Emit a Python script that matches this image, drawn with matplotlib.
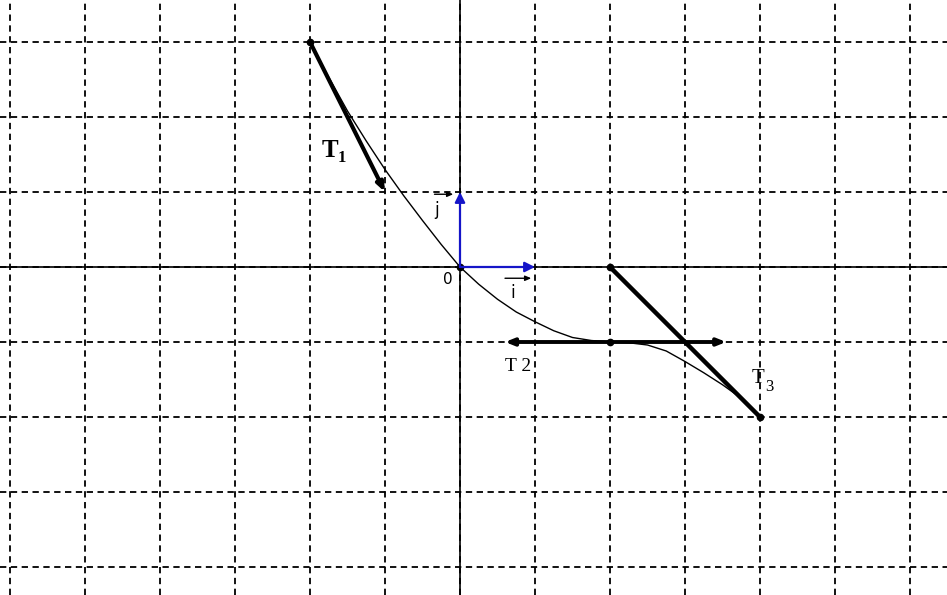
import matplotlib
matplotlib.use("Agg")
import matplotlib.pyplot as plt

# ---- data (graph units) ----
curve_x = [-2, -1.75, -1.5, -1.25, -1, -0.75, -0.5, -0.25, 0, 0.25, 0.5, 0.75, 1,
           1.25, 1.5, 1.75, 2, 2.25, 2.5, 2.75, 3, 3.25, 3.5, 3.75, 4]
curve_y = [3, 2.53, 2.08, 1.68, 1.3, 0.95, 0.62, 0.3, 0, -0.23, -0.43, -0.6, -0.73,
           -0.85, -0.94, -0.98, -1.0, -1.01, -1.04, -1.12, -1.26, -1.41, -1.57, -1.75, -2.0]

t1_x = [-2, -1]
t1_y = [3, 1]
t2_x = [0.6, 3.55]
t2_y = [-1, -1]
t3_x = [2, 4]
t3_y = [0, -2]
vec_i = (1, 0)
vec_j = (0, 1)
dots_x = [-2, 0, 2, 2, 4]
dots_y = [3, 0, 0, -1, -2]

grid_x = list(range(-6, 7))
grid_y = list(range(-4, 4))

W, H = 947, 595
ox, oy, unit = 460, 267, 75

fig = plt.figure(figsize=(W / 100, H / 100), dpi=100)
ax = fig.add_axes([0, 0, 1, 1])
ax.set_xlim(-ox / unit, (W - ox) / unit)
ax.set_ylim(-(H - oy) / unit, oy / unit)
ax.axis("off")

# grid
for gx in grid_x:
    ax.axvline(gx, color="black", lw=1.3, ls=(0, (3.5, 2.5)), zorder=1)
for gy in grid_y:
    ax.axhline(gy, color="black", lw=1.3, ls=(0, (3.5, 2.5)), zorder=1)

# axes
ax.axhline(0, color="black", lw=1.2, zorder=2)
ax.axvline(0, color="black", lw=1.2, zorder=2)

# curve
ax.plot(curve_x, curve_y, color="black", lw=1.0, zorder=3)

# tangents
ax.annotate("", xy=(t1_x[1], t1_y[1]), xytext=(t1_x[0], t1_y[0]),
            arrowprops=dict(arrowstyle="-|>,head_length=0.5,head_width=0.2",
                            color="black", lw=3, shrinkA=0, shrinkB=0), zorder=4)
ax.annotate("", xy=(t2_x[1], t2_y[1]), xytext=(t2_x[0], t2_y[0]),
            arrowprops=dict(arrowstyle="<|-|>,head_length=0.5,head_width=0.2",
                            color="black", lw=2.8, shrinkA=0, shrinkB=0), zorder=4)
ax.plot(t3_x, t3_y, color="black", lw=3.2, solid_capstyle="round", zorder=4)

ax.plot(dots_x, dots_y, "o", color="black", ms=4.5, zorder=5)

# unit vectors
for v in (vec_i, vec_j):
    ax.annotate("", xy=v, xytext=(0, 0),
                arrowprops=dict(arrowstyle="-|>,head_length=0.6,head_width=0.3",
                                color="#1515c8", lw=1.6, shrinkA=0, shrinkB=0), zorder=6)

serif = ["Liberation Serif", "DejaVu Serif"]
sans = ["DejaVu Sans"]

# small arrows over the vector names (drawn as lines, not text)
small = dict(arrowstyle="-|>,head_length=0.35,head_width=0.15", color="black",
             lw=1.0, shrinkA=0, shrinkB=0)
ax.annotate("", xy=(0.95, -0.15), xytext=(0.6, -0.15), arrowprops=small)
ax.annotate("", xy=(-0.09, 0.97), xytext=(-0.34, 0.97), arrowprops=small)

# labels
ax.text(-0.16, -0.17, "0", fontsize=11, family=sans, ha="center", va="center")
ax.text(0.7, -0.35, "i", fontsize=12, family=sans, ha="center", va="center")
ax.text(-0.31, 0.76, "j", fontsize=12, family=sans, ha="center", va="center")

ax.text(-1.74, 1.55, "T", fontsize=18, family=serif, fontweight="bold",
        ha="center", va="center")
ax.text(-1.57, 1.45, "1", fontsize=12, family=serif, fontweight="bold",
        ha="center", va="center")
ax.text(0.77, -1.33, "T 2", fontsize=14, family=serif, ha="center", va="center")
ax.text(3.98, -1.48, "T", fontsize=15, family=serif, ha="center", va="center")
ax.text(4.13, -1.6, "3", fontsize=12, family=serif, ha="center", va="center")

fig.savefig("out.png", dpi=100)
